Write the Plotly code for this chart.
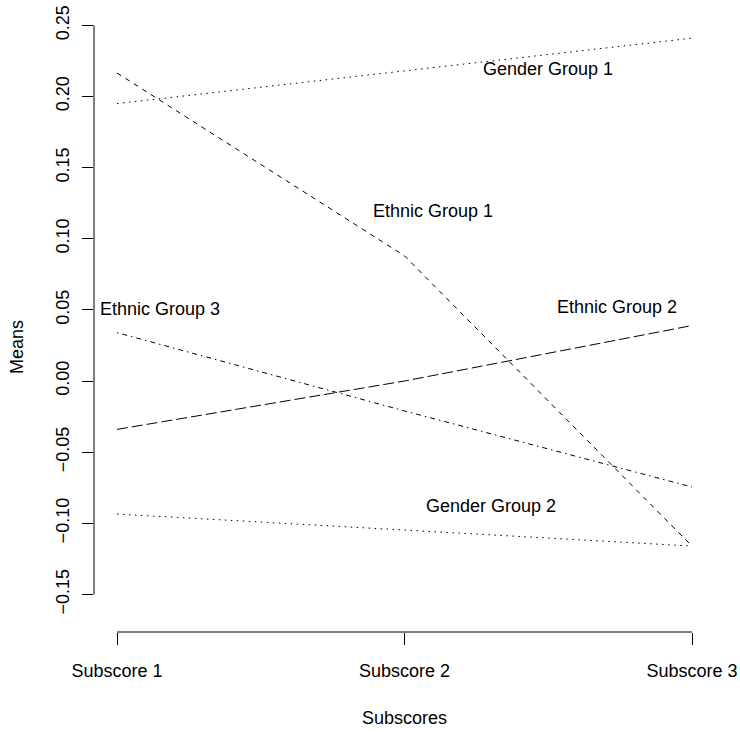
import plotly.graph_objects as go

subscores = ["Subscore 1", "Subscore 2", "Subscore 3"]
x_pos = [1, 2, 3]

gender_group_1 = [0.195, 0.218, 0.241]
gender_group_2 = [-0.0935, -0.105, -0.116]
ethnic_group_1 = [0.2165, 0.088, -0.116]
ethnic_group_2 = [-0.034, 0.000, 0.039]
ethnic_group_3 = [0.034, -0.021, -0.0745]

y_ticks = [-0.15, -0.10, -0.05, 0.00, 0.05, 0.10, 0.15, 0.20, 0.25]
y_tick_labels = ["\u22120.15", "\u22120.10", "\u22120.05", "0.00", "0.05", "0.10", "0.15", "0.20", "0.25"]

series = [
    ("Gender Group 1", gender_group_1, "1.5px,4.5px"),
    ("Gender Group 2", gender_group_2, "1.5px,4.5px"),
    ("Ethnic Group 1", ethnic_group_1, "5px,5px"),
    ("Ethnic Group 2", ethnic_group_2, "11px,4px"),
    ("Ethnic Group 3", ethnic_group_3, "1.5px,4px,5px,4px"),
]

# label text positions (data coords)
label_names = ["Gender Group 1", "Ethnic Group 1", "Ethnic Group 3", "Ethnic Group 2", "Gender Group 2"]
label_x = [2.5, 2.10, 1.15, 2.74, 2.30]
label_y = [0.219, 0.1195, 0.0506, 0.052, -0.088]

FONT = "Liberation Sans, Arial, sans-serif"
FS = 18

fig = go.Figure()
for name, vals, dash in series:
    fig.add_trace(go.Scatter(x=x_pos, y=vals, mode="lines", name=name,
                             line=dict(color="black", width=1, dash=dash),
                             showlegend=False, hoverinfo="skip"))

for t, lx, ly in zip(label_names, label_x, label_y):
    fig.add_annotation(x=lx, y=ly, xref="x", yref="y", text=t, showarrow=False,
                       font=dict(family=FONT, size=FS, color="black"),
                       xanchor="center", yanchor="middle")

# axis lines spanning tick range (R style)
fig.add_shape(type="line", xref="paper", yref="y", x0=0, x1=0,
              y0=y_ticks[0], y1=y_ticks[-1], line=dict(color="black", width=1))
fig.add_shape(type="line", xref="x", yref="paper", x0=x_pos[0], x1=x_pos[-1],
              y0=0, y1=0, line=dict(color="black", width=1))

# axis titles
fig.add_annotation(text="Means", xref="paper", yref="paper", x=0, y=(632 - 347) / 630,
                   xshift=-77, textangle=-90, showarrow=False,
                   xanchor="center", yanchor="middle",
                   font=dict(family=FONT, size=FS, color="black"))
fig.add_annotation(text="Subscores", xref="paper", yref="paper", x=0.5, y=0,
                   yshift=-86, showarrow=False, xanchor="center", yanchor="middle",
                   font=dict(family=FONT, size=FS, color="black"))

fig.update_xaxes(range=[0.92, 3.08], tickmode="array", tickvals=x_pos, ticktext=subscores,
                 ticks="outside", ticklen=12, tickcolor="black", tickwidth=1,
                 showgrid=False, zeroline=False, showline=False,
                 tickfont=dict(family=FONT, size=FS, color="black"),
                 ticklabelstandoff=10, ticklabeloverflow="allow")
fig.update_yaxes(range=[-0.1764, 0.2664], tickmode="array", tickvals=y_ticks, ticktext=y_tick_labels,
                 ticks="outside", ticklen=11, tickcolor="black", tickwidth=1,
                 showgrid=False, zeroline=False, showline=False, tickangle=-90,
                 tickfont=dict(family=FONT, size=FS, color="black"),
                 ticklabelstandoff=6, ticklabeloverflow="allow")

fig.update_layout(width=740, height=732, margin=dict(l=94, r=25, t=2, b=100),
                  paper_bgcolor="white", plot_bgcolor="white")

fig.write_html("out.html", config={"displayModeBar": False},
               post_script="document.body.style.margin='0';document.body.style.overflow='hidden';")
